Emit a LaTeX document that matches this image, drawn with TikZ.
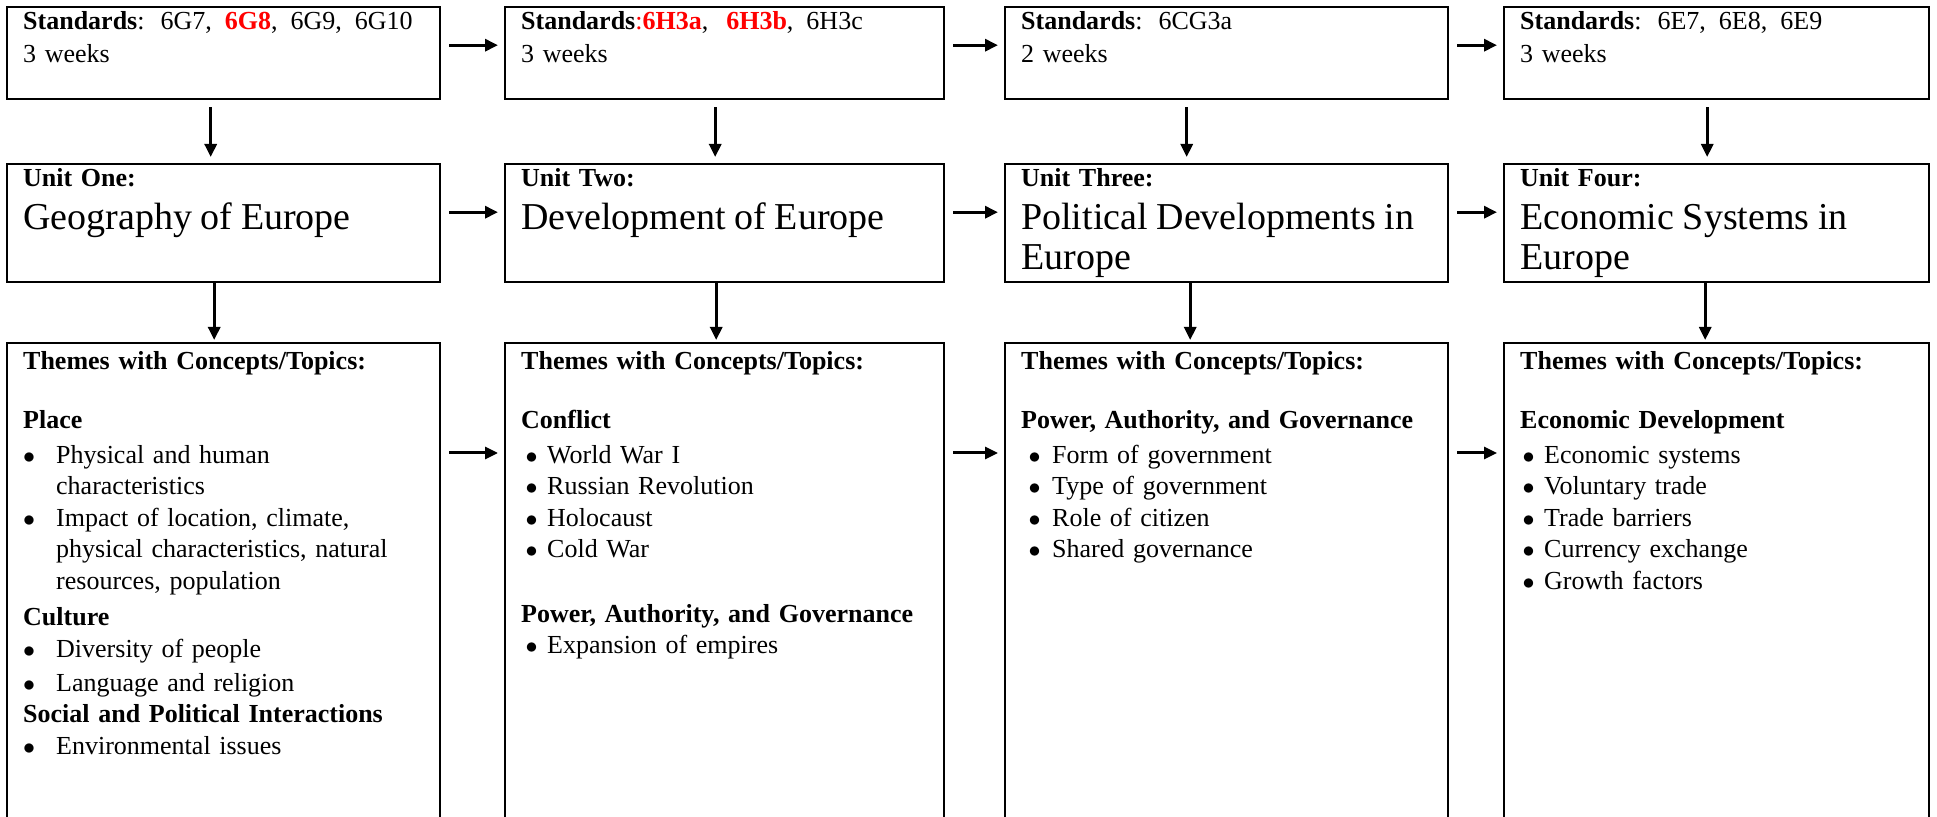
\documentclass[tikz,border=0pt]{standalone}
\usepackage{fontspec}
\setmainfont{Liberation Serif}
\usepackage{xcolor}
\usetikzlibrary{arrows.meta}

\hyphenpenalty=10000
\exhyphenpenalty=10000
\newlength{\bulpos}
\newlength{\bulind}
\newcommand{\itm}[1]{\par\hangindent=\bulind\hangafter=1\noindent\makebox[\bulind][l]{\hspace{\bulpos}$\bullet$}#1\par}
\newcommand{\topichead}[1]{\par\textbf{#1}\par\vspace{1.5pt}}
\newcommand{\bigt}{\fontsize{19}{20}\selectfont}
\newcommand{\hl}[1]{\textcolor{red}{\textbf{#1}}}

\tikzset{
  cellbox/.style={draw, line width=1.2pt, anchor=north west, align=left,
    inner xsep=8pt, inner ysep=2pt, font=\fontsize{13}{16.5}\selectfont},
  stdbox/.style={cellbox, text width=#1, text height=9pt, text depth=33pt},
  unitbox/.style={cellbox, text width=#1, text height=9pt, text depth=46pt},
  themebox/.style n args={3}{cellbox, text width=#1, text height=11pt, text depth=235pt,
    font=\fontsize{13}{15.75}\selectfont,
    execute at begin node={\setlength{\bulpos}{#2}\setlength{\bulind}{#3}}},
  arr/.style={-{Triangle[width=6pt,length=6.5pt]}, line width=1.5pt,
    shorten <=4pt, shorten >=3pt}
}

\begin{document}
\begin{tikzpicture}[x=0.5pt, y=-0.5pt]
  \useasboundingbox (0,0) rectangle (1937,817);
  \clip (0,0) rectangle (1937,817);

  % standards
  \node[stdbox=200.5pt] (s1) at (6,6)
    {\textbf{Standards}:\hspace{8pt}6G7,\enspace\hl{6G8},\enspace 6G9,\enspace 6G10\\3 weeks};
  \node[stdbox=203.5pt] (s2) at (504,6)
    {\textbf{Standards}\textcolor{red}{:}\hl{6H3a},\hspace{9pt}\hl{6H3b},\enspace 6H3c\\3 weeks};
  \node[stdbox=205.5pt] (s3) at (1004,6)
    {\textbf{Standards}:\hspace{8pt}6CG3a\\2 weeks};
  \node[stdbox=196.5pt] (s4) at (1503,6)
    {\textbf{Standards}:\hspace{8pt}6E7,\enspace 6E8,\enspace 6E9\\3 weeks};

  % units
  \node[unitbox=200.5pt] (u1) at (6,163)
    {\textbf{Unit One:}\par\vspace{1.5pt}\bigt Geography of Europe\par};
  \node[unitbox=203.5pt] (u2) at (504,163)
    {\textbf{Unit Two:}\par\vspace{1.5pt}\bigt Development of Europe\par};
  \node[unitbox=205.5pt] (u3) at (1004,163)
    {\textbf{Unit Three:}\par\vspace{1.5pt}\bigt Political Developments in Europe\par};
  \node[unitbox=196.5pt] (u4) at (1503,163)
    {\textbf{Unit Four:}\par\vspace{1.5pt}\bigt Economic Systems in Europe\par};

  % themes
  \node[themebox={200.5pt}{0pt}{16.5pt}] (t1) at (6,342) {%
    \textbf{Themes with Concepts/Topics:}\par\vspace{14pt}
    \topichead{Place}
    \itm{Physical and human\newline characteristics}
    \itm{Impact of location, climate,\newline physical characteristics, natural\newline resources, population}
    \vspace{2.5pt}\textbf{Culture}\par
    \itm{Diversity of people}
    \vspace{1.25pt}\itm{Language and religion}
    \textbf{Social and Political Interactions}\par
    \itm{Environmental issues}};
  \node[themebox={203.5pt}{2.25pt}{13pt}] (t2) at (504,342) {%
    \textbf{Themes with Concepts/Topics:}\par\vspace{14pt}
    \topichead{Conflict}
    \itm{World War I}
    \itm{Russian Revolution}
    \itm{Holocaust}
    \itm{Cold War}
    \vspace{16.5pt}\textbf{Power, Authority, and Governance}\par
    \itm{Expansion of empires}};
  \node[themebox={205.5pt}{3.75pt}{15.5pt}] (t3) at (1004,342) {%
    \textbf{Themes with Concepts/Topics:}\par\vspace{14pt}
    \topichead{Power, Authority, and Governance}
    \itm{Form of government}
    \itm{Type of government}
    \itm{Role of citizen}
    \itm{Shared governance}};
  \node[themebox={196.5pt}{1.25pt}{12pt}] (t4) at (1503,342) {%
    \textbf{Themes with Concepts/Topics:}\par\vspace{14pt}
    \topichead{Economic Development}
    \itm{Economic systems}
    \itm{Voluntary trade}
    \itm{Trade barriers}
    \itm{Currency exchange}
    \itm{Growth factors}};

  % across
  \draw[arr] ([yshift=4pt]s1.east) -- ([yshift=4pt]s2.west);
  \draw[arr] ([yshift=4pt]s2.east) -- ([yshift=4pt]s3.west);
  \draw[arr] ([yshift=4pt]s3.east) -- ([yshift=4pt]s4.west);
  \draw[arr] ([yshift=5.5pt]u1.east) -- ([yshift=5.5pt]u2.west);
  \draw[arr] ([yshift=5.5pt]u2.east) -- ([yshift=5.5pt]u3.west);
  \draw[arr] ([yshift=5.5pt]u3.east) -- ([yshift=5.5pt]u4.west);
  \draw[arr] ([yshift=-55.5pt]t1.north east) -- ([yshift=-55.5pt]t2.north west);
  \draw[arr] ([yshift=-55.5pt]t2.north east) -- ([yshift=-55.5pt]t3.north west);
  \draw[arr] ([yshift=-55.5pt]t3.north east) -- ([yshift=-55.5pt]t4.north west);

  % down
  \draw[arr, shorten <=3.5pt] ([xshift=-6.5pt]s1.south) -- ([xshift=-6.5pt]u1.north);
  \draw[arr, shorten <=3.5pt] ([xshift=-4.75pt]s2.south) -- ([xshift=-4.75pt]u2.north);
  \draw[arr, shorten <=3.5pt] ([xshift=-20pt]s3.south) -- ([xshift=-20pt]u3.north);
  \draw[arr, shorten <=3.5pt] ([xshift=-4.75pt]s4.south) -- ([xshift=-4.75pt]u4.north);
  \draw[arr, shorten <=0pt, shorten >=1pt] ([xshift=-4.75pt]u1.south) -- ([xshift=-4.75pt]t1.north);
  \draw[arr, shorten <=0pt, shorten >=1pt] ([xshift=-4.25pt]u2.south) -- ([xshift=-4.25pt]t2.north);
  \draw[arr, shorten <=0pt, shorten >=1pt] ([xshift=-18.25pt]u3.south) -- ([xshift=-18.25pt]t3.north);
  \draw[arr, shorten <=0pt, shorten >=1pt] ([xshift=-5.75pt]u4.south) -- ([xshift=-5.75pt]t4.north);
\end{tikzpicture}
\end{document}
